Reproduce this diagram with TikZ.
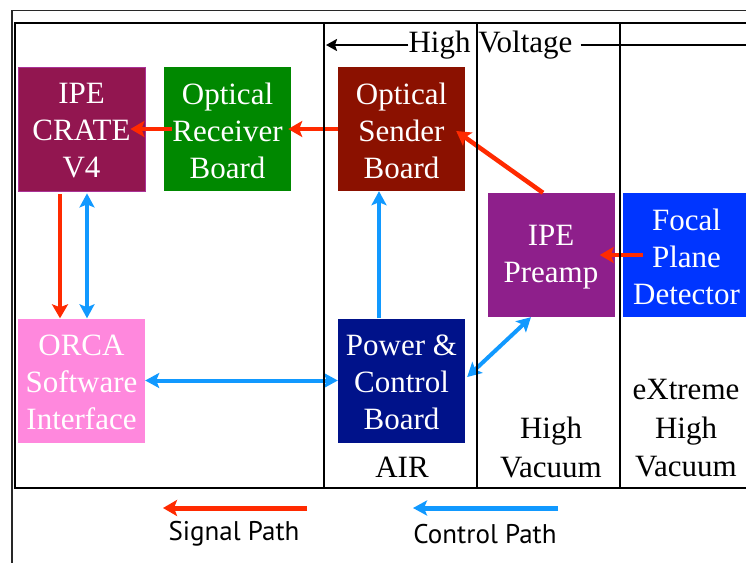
\documentclass[tikz,border=0pt]{standalone}
\usepackage{fontspec}
\setmainfont{Liberation Serif}
\newfontfamily\legendfont{PT Sans}
\usetikzlibrary{arrows.meta}
\definecolor{crateC}{RGB}{146,22,80}
\definecolor{crateB}{RGB}{170,50,150}
\definecolor{recvC}{RGB}{0,136,0}
\definecolor{senderC}{RGB}{139,17,0}
\definecolor{preampC}{RGB}{142,31,139}
\definecolor{focalC}{RGB}{0,53,255}
\definecolor{orcaC}{RGB}{255,136,221}
\definecolor{powerC}{RGB}{0,18,138}
\definecolor{sigC}{RGB}{255,42,0}
\definecolor{ctlC}{RGB}{17,153,255}
\definecolor{frameC}{RGB}{40,40,40}
\begin{document}
\begin{tikzpicture}[x=1pt,y=-1pt,
  box/.style={minimum width=127pt, minimum height=124pt, inner sep=0pt},
  boxtext/.style={text=white, align=center, inner sep=0pt, yshift=-2pt,
    font=\fontsize{31}{37}\selectfont},
  lbl/.style={inner sep=0pt, align=center, font=\fontsize{31}{38.5}\selectfont},
  legtext/.style={inner sep=0pt, font=\legendfont\fontsize{27}{32}\selectfont},
  sig/.style={draw=sigC, line width=4.5pt, -{Stealth[length=14pt,width=16pt,inset=3pt]}},
  ctl/.style={draw=ctlC, line width=4pt, -{Stealth[length=14pt,width=15pt,inset=3pt]}},
  ctlb/.style={draw=ctlC, line width=4pt, {Stealth[length=14pt,width=15pt,inset=3pt]}-{Stealth[length=14pt,width=15pt,inset=3pt]}},
  hvarrow/.style={draw=black, line width=2.5pt, -{Stealth[length=11pt,width=12pt,inset=2pt]}},
  outerline/.style={draw=frameC, line width=1.5pt},
  innerline/.style={draw=black, line width=1.2pt}
]
\useasboundingbox (0,0) rectangle (746,563);
\fill[white] (0,0) rectangle (746,563);

% outer frame
\draw[outerline] (746,10.5) -- (12,10.5) -- (12,563);

% boxes
\node[box, fill=crateC, draw=crateB, line width=0.8pt,
  label={[boxtext]center:{IPE\\CRATE\\V4}}] (crate) at (81.5,129) {};
\node[box, fill=recvC, label={[boxtext]center:{Optical\\Receiver\\Board}}] (recv) at (227.5,129) {};
\node[box, fill=senderC, label={[boxtext]center:{Optical\\Sender\\Board}}] (sender) at (401.5,129) {};
\node[box, fill=preampC, label={[boxtext]center:{IPE\\Preamp}}] (preamp) at (551,255) {};
\node[box, fill=focalC, minimum width=123pt, label={[boxtext, xshift=2pt]center:{Focal\\Plane\\Detector}}] (focal) at (684.5,255) {};
\node[box, fill=orcaC, label={[boxtext]center:{ORCA\\Software\\Interface}}] (orca) at (81.5,380.5) {};
\node[box, fill=powerC, label={[boxtext]center:{Power \&\\Control\\Board}}] (power) at (401.5,380.5) {};

% region labels
\node[lbl] (air) at (402,467) {AIR};
\node[lbl] (hvac) at (551,447.5) {High\\Vacuum};
\node[lbl] (xhv) at (686,428.5) {eXtreme\\High\\Vacuum};

% high voltage
\node[lbl] (hv) at (490.5,45) {High Voltage};
\coordinate (hvL) at (326,45);
\coordinate (hvR) at (746,45);
\draw[hvarrow] (hv.west) -- (hvL);
\draw[black, line width=2.5pt] ([xshift=8pt]hv.east) -- (hvR);

% signal path
\draw[sig] (sender.west) -- ([xshift=-3pt]recv.east);
\draw[sig] ([xshift=8pt]recv.west) -- ([xshift=-15pt]crate.east);
\draw[sig] ([xshift=-8pt]preamp.north) -- ([xshift=-9pt,yshift=-2pt]sender.east);
\draw[sig] ([xshift=20pt]focal.west) -- ([xshift=-15pt]preamp.east);
\draw[sig] ([xshift=-21.5pt,yshift=-3pt]crate.south) -- ([xshift=-21.5pt]orca.north);

% control path
\draw[ctlb] ([xshift=5.5pt,yshift=-2pt]crate.south) -- ([xshift=5.5pt]orca.north);
\draw[ctl] ([xshift=-22.5pt]power.north) -- ([xshift=-22.5pt]sender.south);
\draw[ctlb] (orca.east) -- (power.west);
\draw[ctlb] ([xshift=2pt,yshift=3.5pt]power.east) -- ([xshift=-20pt]preamp.south);

% legend
\coordinate (sigA) at (307,508);
\coordinate (sigB) at (163,508);
\coordinate (ctlA) at (558,508);
\coordinate (ctlB) at (413,508);
\draw[sig, line width=5pt] (sigA) -- (sigB);
\draw[ctl, line width=5pt] (ctlA) -- (ctlB);
\node[legtext] (sigtxt) at (234,534) {Signal Path};
\node[legtext] (ctltxt) at (485,534) {Control Path};

% inner frame and dividers
\draw[innerline] (746,23) -- (15,23) -- (15,488) -- (746,488);
\draw[innerline] (324,23) -- (324,488);
\draw[innerline] (477,23) -- (477,488);
\draw[innerline] (620,23) -- (620,488);
\end{tikzpicture}
\end{document}
